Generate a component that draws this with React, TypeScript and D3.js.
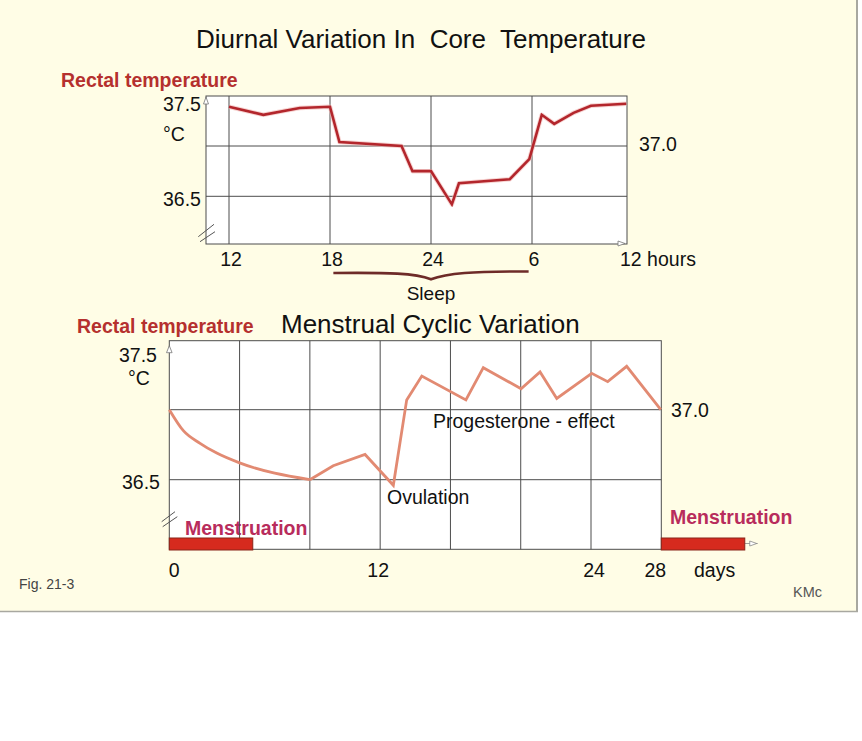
import React from "react";
import * as d3 from "d3";

// ---------- Data ----------
// Diurnal variation (hours on a continuous clock: 12 = noon, 24 = midnight, 30 = 6 am, 36 = noon)
const diurnalHours = [12, 14.04, 16.2, 18, 18.56, 22.25, 22.9, 24, 25.24, 25.66, 28.68, 29.84, 30.58, 31.32, 32.47, 33.5, 35.6];
const diurnalTemp = [37.39, 37.31, 37.377, 37.39, 37.04, 37.0, 36.75, 36.75, 36.42, 36.63, 36.67, 36.87, 37.31, 37.22, 37.33, 37.4, 37.42];
const diurnalTicks = [12, 18, 24, 30, 36];
const diurnalTickLabels = ["12", "18", "24", "6", "12 hours"];
const diurnalGridY = [37.0, 36.5];

// Menstrual cycle: smooth early phase, then linear
const cycleDaysEarly = [0, 0.8, 1.75, 2.7, 4, 8];
const cycleTempEarly = [37.0, 36.85, 36.76, 36.69, 36.62, 36.5];
const cycleDaysLate = [8, 9.33, 11.14, 12.75, 13.51, 14.37, 16.88, 17.87, 20.02, 21.1, 22.05, 24.04, 24.95, 26.03, 27.97];
const cycleTempLate = [36.5, 36.6, 36.68, 36.46, 37.07, 37.24, 37.07, 37.3, 37.15, 37.27, 37.08, 37.26, 37.2, 37.31, 37.0];
const cycleGridX = [4, 8, 12, 16, 20, 24];
const cycleGridY = [37.0, 36.5];
const cycleTicks = [0, 12, 24, 28];
const cycleTickLabels = ["0", "12", "24", "28"];
const menstruationStart = [0, 28];
const menstruationLength = 4.75;

const FONT = "'Liberation Sans', Arial, Helvetica, sans-serif";

export default function App() {
  const x1 = d3.scaleLinear().domain([12, 18]).range([229, 330]);
  const y1 = d3.scaleLinear().domain([36.5, 37.0]).range([196.3, 146]);
  const box1 = { x0: 206, x1: 627, y0: 96, y1: 244 };

  const x2 = d3.scaleLinear().domain([0, 28]).range([169.3, 661.3]);
  const y2 = d3.scaleLinear().domain([36.5, 37.0]).range([479.7, 409.7]);
  const box2 = { x0: x2(0), x1: x2(28), y0: 340.7, y1: 549.3 };

  const line1 = d3
    .line<number>()
    .x((_, i) => x1(diurnalHours[i]))
    .y((d) => y1(d))
    .curve(d3.curveLinear);
  const line2a = d3
    .line<number>()
    .x((_, i) => x2(cycleDaysEarly[i]))
    .y((d) => y2(d))
    .curve(d3.curveMonotoneX);
  const line2b = d3
    .line<number>()
    .x((_, i) => x2(cycleDaysLate[i]))
    .y((d) => y2(d))
    .curve(d3.curveLinear);

  const grid = "#4d4d4d";
  const textStyle: React.CSSProperties = { whiteSpace: "pre" };

  return (
    <div style={{ position: "absolute", left: 0, top: 0 }}>
      <svg width={862} height={741} style={{ display: "block", background: "#ffffff" }} fontFamily={FONT}>
        <rect x={0} y={0} width={857} height={611} fill="#fffde6" />
        <line x1={857} y1={0} x2={857} y2={612} stroke="#a8a8a0" strokeWidth={2} />
        <line x1={0} y1={611.5} x2={858} y2={611.5} stroke="#a8a8a0" strokeWidth={1.5} />

        {/* ---------- Top chart ---------- */}
        <text x={196} y={48} fontSize={26} fill="#111" style={textStyle}>
          {"Diurnal Variation In  Core  Temperature"}
        </text>
        <text x={61} y={87} fontSize={19.5} fontWeight="bold" fill="#b5302e">
          Rectal temperature
        </text>

        <rect x={box1.x0} y={box1.y0} width={box1.x1 - box1.x0} height={box1.y1 - box1.y0} fill="#ffffff" />
        {diurnalTicks.slice(0, 4).map((t) => (
          <line key={"v1" + t} x1={x1(t)} x2={x1(t)} y1={box1.y0} y2={box1.y1} stroke={grid} strokeWidth={1} />
        ))}
        {diurnalGridY.map((t) => (
          <line key={"h1" + t} x1={box1.x0} x2={box1.x1} y1={y1(t)} y2={y1(t)} stroke={grid} strokeWidth={1} />
        ))}
        <rect x={box1.x0} y={box1.y0} width={box1.x1 - box1.x0} height={box1.y1 - box1.y0} fill="none" stroke={grid} strokeWidth={1} />
        <polygon points={`${box1.x0},${box1.y0 + 1} ${box1.x0 - 2.5},${box1.y0 + 8} ${box1.x0 + 2.5},${box1.y0 + 8}`} fill="#fff" stroke="#777" strokeWidth={0.8} />
        <polygon points={`${box1.x1 - 9},${box1.y1 - 3} ${box1.x1 - 9},${box1.y1 + 2} ${box1.x1 - 2},${box1.y1 - 0.5}`} fill="#fff" stroke="#777" strokeWidth={0.8} />
        <line x1={198.3} y1={236.7} x2={214} y2={224.3} stroke="#555" strokeWidth={1} />
        <line x1={200} y1={241.7} x2={215} y2={231.7} stroke="#555" strokeWidth={1} />

        <path d={line1(diurnalTemp) || ""} fill="none" stroke="#f2b8b4" strokeWidth={4.5} strokeLinejoin="round" opacity={0.6} />
        <path d={line1(diurnalTemp) || ""} fill="none" stroke="#b3262c" strokeWidth={2.6} strokeLinejoin="miter" />

        <text x={163} y={111} fontSize={19.5} fill="#111">37.5</text>
        <text x={163} y={141} fontSize={19.5} fill="#111">°C</text>
        <text x={163} y={206} fontSize={19.5} fill="#111">36.5</text>
        <text x={639} y={151} fontSize={19.5} fill="#111">37.0</text>
        {diurnalTicks.map((t, i) =>
          i < 4 ? (
            <text key={"xl1" + t} x={x1(t) + 2} y={266} fontSize={19.5} fill="#111" textAnchor="middle">
              {diurnalTickLabels[i]}
            </text>
          ) : (
            <text key={"xl1" + t} x={620} y={266} fontSize={19.5} fill="#111">
              {diurnalTickLabels[i]}
            </text>
          )
        )}
        <path
          d={`M${x1(18.2)},273 C390,272.5 415,273 ${x1(24)},279.3 C447,273 472,271.3 ${x1(29.8)},271.5`}
          fill="none"
          stroke="#6e2b28"
          strokeWidth={2.6}
        />
        <text x={x1(24)} y={300} fontSize={19} fill="#111" textAnchor="middle">Sleep</text>

        {/* ---------- Bottom chart ---------- */}
        <text x={77} y={333} fontSize={19.5} fontWeight="bold" fill="#b5302e">
          Rectal temperature
        </text>
        <text x={281} y={333} fontSize={26} fill="#111">
          Menstrual Cyclic Variation
        </text>

        <rect x={box2.x0} y={box2.y0} width={box2.x1 - box2.x0} height={box2.y1 - box2.y0} fill="#ffffff" />
        {cycleGridY.map((t) => (
          <line key={"h2" + t} x1={box2.x0} x2={box2.x1} y1={y2(t)} y2={y2(t)} stroke={grid} strokeWidth={1} />
        ))}

        <text x={185} y={535} fontSize={19.5} fontWeight="bold" fill="#b82c5c">Menstruation</text>
        {cycleGridX.map((t) => (
          <line key={"v2" + t} x1={x2(t)} x2={x2(t)} y1={box2.y0} y2={box2.y1} stroke={grid} strokeWidth={1} />
        ))}
        <rect x={box2.x0} y={box2.y0} width={box2.x1 - box2.x0} height={box2.y1 - box2.y0} fill="none" stroke={grid} strokeWidth={1} />
        <polygon points={`${box2.x0},${box2.y0 + 5} ${box2.x0 - 2.8},${box2.y0 + 12} ${box2.x0 + 2.8},${box2.y0 + 12}`} fill="#fff" stroke="#777" strokeWidth={0.8} />
        <line x1={x2(28 + menstruationLength)} x2={x2(28 + menstruationLength) + 13} y1={543.5} y2={543.5} stroke="#888" strokeWidth={0.8} />
        <polygon points={`${x2(28 + menstruationLength) + 5},${541} ${x2(28 + menstruationLength) + 5},${546} ${x2(28 + menstruationLength) + 12},${543.5}`} fill="#fff" stroke="#888" strokeWidth={0.8} />
        <line x1={161.7} y1={521.7} x2={175} y2={511.7} stroke="#555" strokeWidth={1} />
        <line x1={162.7} y1={526.7} x2={177.3} y2={516.7} stroke="#555" strokeWidth={1} />

        {menstruationStart.map((d) => (
          <rect
            key={"m" + d}
            x={x2(d)}
            y={538}
            width={x2(d + menstruationLength) - x2(d)}
            height={12}
            fill="#d62a1e"
            stroke="#8a2418"
            strokeWidth={1}
          />
        ))}

        <path d={line2a(cycleTempEarly) || ""} fill="none" stroke="#e28a72" strokeWidth={2.8} strokeLinejoin="miter" />
        <path d={line2b(cycleTempLate) || ""} fill="none" stroke="#e28a72" strokeWidth={2.8} strokeLinejoin="miter" />

        <text x={119} y={362} fontSize={19.5} fill="#111">37.5</text>
        <text x={128} y={385} fontSize={19.5} fill="#111">°C</text>
        <text x={122} y={489} fontSize={19.5} fill="#111">36.5</text>
        <text x={671} y={417} fontSize={19.5} fill="#111">37.0</text>
        <text x={433} y={428} fontSize={19.5} fill="#111">Progesterone - effect</text>
        <text x={387} y={504} fontSize={19.5} fill="#111">Ovulation</text>
        <text x={670} y={524} fontSize={19.5} fontWeight="bold" fill="#b82c5c">Menstruation</text>

        {cycleTicks.map((t, i) => {
          const off = [5, -2, 3, -6][i];
          return (
            <text key={"xl2" + t} x={x2(t) + off} y={577} fontSize={19.5} fill="#111" textAnchor="middle">
              {cycleTickLabels[i]}
            </text>
          );
        })}
        <text x={694} y={577} fontSize={19.5} fill="#111">days</text>

        <text x={19} y={589} fontSize={14} fill="#444">Fig. 21-3</text>
        <text x={793} y={597} fontSize={14.5} fill="#555">KMc</text>
      </svg>
    </div>
  );
}
